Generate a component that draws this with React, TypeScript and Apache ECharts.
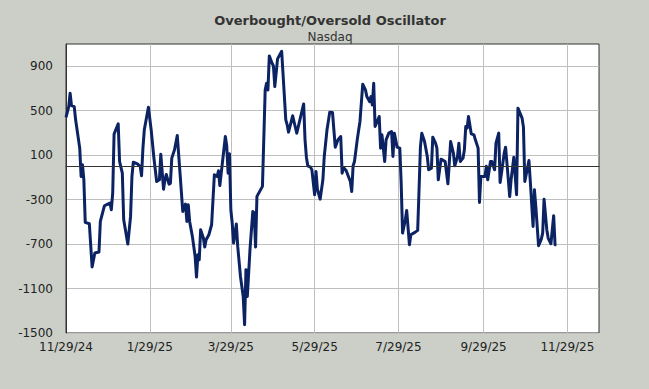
import React, { useEffect, useRef } from "react";
import * as echarts from "echarts";

const titleText = "Overbought/Oversold Oscillator";
const subtitleText = "Nasdaq";

const dates: string[] = [
  "2024-11-29","2024-12-01","2024-12-02","2024-12-03","2024-12-05","2024-12-06","2024-12-09","2024-12-10","2024-12-11","2024-12-12",
  "2024-12-13","2024-12-16","2024-12-18","2024-12-20","2024-12-23","2024-12-24","2024-12-27","2024-12-29","2024-12-31","2025-01-01",
  "2025-01-02","2025-01-03","2025-01-06","2025-01-07","2025-01-09","2025-01-10","2025-01-13","2025-01-15","2025-01-16","2025-01-17",
  "2025-01-20","2025-01-22","2025-01-23","2025-01-24","2025-01-25","2025-01-28","2025-01-30","2025-02-01","2025-02-03","2025-02-05",
  "2025-02-06","2025-02-08","2025-02-09","2025-02-10","2025-02-12","2025-02-13","2025-02-14","2025-02-16","2025-02-18","2025-02-20",
  "2025-02-22","2025-02-24","2025-02-25","2025-02-26","2025-02-27","2025-03-01","2025-03-03","2025-03-04","2025-03-05","2025-03-06",
  "2025-03-07","2025-03-09","2025-03-10","2025-03-11","2025-03-13","2025-03-15","2025-03-17","2025-03-19","2025-03-20","2025-03-21",
  "2025-03-22","2025-03-25","2025-03-26","2025-03-27","2025-03-28","2025-03-29","2025-03-30","2025-03-31","2025-04-02","2025-04-03",
  "2025-04-05","2025-04-07","2025-04-08","2025-04-09","2025-04-10","2025-04-12","2025-04-14","2025-04-15","2025-04-16","2025-04-17",
  "2025-04-21","2025-04-23","2025-04-24","2025-04-25","2025-04-26","2025-04-28","2025-04-29","2025-04-30","2025-05-02","2025-05-05",
  "2025-05-08","2025-05-09","2025-05-10","2025-05-13","2025-05-15","2025-05-16","2025-05-19","2025-05-21","2025-05-22","2025-05-23",
  "2025-05-24","2025-05-26","2025-05-27","2025-05-29","2025-05-30","2025-05-31","2025-06-02","2025-06-04","2025-06-05","2025-06-07",
  "2025-06-09","2025-06-11","2025-06-13","2025-06-15","2025-06-17","2025-06-18","2025-06-19","2025-06-21","2025-06-24","2025-06-25",
  "2025-06-26","2025-06-27","2025-06-29","2025-06-30","2025-07-01","2025-07-03","2025-07-05","2025-07-06","2025-07-08","2025-07-09",
  "2025-07-10","2025-07-11","2025-07-12","2025-07-14","2025-07-15","2025-07-16","2025-07-17","2025-07-19","2025-07-20","2025-07-22",
  "2025-07-24","2025-07-25","2025-07-26","2025-07-27","2025-07-28","2025-07-30","2025-07-31","2025-08-01","2025-08-03","2025-08-04",
  "2025-08-06","2025-08-07","2025-08-10","2025-08-12","2025-08-13","2025-08-14","2025-08-15","2025-08-17","2025-08-19","2025-08-20",
  "2025-08-22","2025-08-23","2025-08-25","2025-08-26","2025-08-27","2025-08-29","2025-09-01","2025-09-03","2025-09-04","2025-09-05",
  "2025-09-07","2025-09-08","2025-09-10","2025-09-11","2025-09-12","2025-09-14","2025-09-15","2025-09-16","2025-09-17","2025-09-18",
  "2025-09-20","2025-09-22","2025-09-23","2025-09-25","2025-09-26","2025-09-27","2025-09-29","2025-09-30","2025-10-01","2025-10-02",
  "2025-10-04","2025-10-05","2025-10-07","2025-10-08","2025-10-10","2025-10-11","2025-10-12","2025-10-14","2025-10-15","2025-10-17",
  "2025-10-18","2025-10-19","2025-10-21","2025-10-23","2025-10-24","2025-10-27","2025-10-28","2025-10-29","2025-11-01","2025-11-02",
  "2025-11-04","2025-11-05","2025-11-06","2025-11-08","2025-11-10","2025-11-11","2025-11-12","2025-11-14","2025-11-15","2025-11-17",
  "2025-11-19","2025-11-20","2025-11-21"
];

const oscillator: number[] = [
  440, 537, 657, 546, 537, 418, 163, -92, 13, -122,
  -505, -517, -906, -780, -771, -496, -355, -343, -331, -391,
  -241, 289, 382, 43, -62, -481, -700, -451, -92, 37,
  22, -2, -85, 163, 328, 531, 328, 73, -137, -122,
  109, -206, -122, -74, -161, -152, 73, 148, 277, -62,
  -406, -340, -496, -346, -496, -631, -811, -997, -796, -841,
  -571, -646, -727, -661, -616, -526, -77, -92, -41, -173,
  -62, 268, 184, -62, 112, -391, -511, -691, -520, -721,
  -991, -1171, -1425, -930, -1171, -736, -406, -420, -727, -271,
  -181, 687, 747, 687, 993, 927, 903, 717, 966, 1035,
  418, 373, 307, 454, 349, 298, 457, 561, 238, 82,
  4, -8, -32, -256, -47, -206, -296, -122, 88, 328,
  487, 484, 172, 238, 268, -62, -11, -41, -137, -227,
  4, 43, 238, 322, 403, 738, 687, 627, 582, 627,
  552, 747, 358, 418, 448, 163, 283, 43, 238, 298,
  313, 88, 298, 238, 172, 163, -152, -601, -481, -397,
  -706, -616, -595, -577, -211, 172, 298, 223, 88, -32,
  -17, 262, 208, 163, -122, 64, 43, -158, 28, 223,
  118, 4, 88, 208, 43, 73, 148, 358, 343, 448,
  292, 283, 238, 163, -326, -92, -92, -92, 1, -122,
  43, 43, -32, 208, 298, -146, -62, 118, 172, -122,
  -272, -122, 82, -256, 523, 433, 352, -137, 52, -137,
  -541, -212, -361, -715, -655, -601, -296, -571, -646, -697,
  -445, -706, -706
];

const xTickDates: string[] = [
  "2024-11-29", "2025-01-29", "2025-03-29", "2025-05-29", "2025-07-29", "2025-09-29", "2025-11-29"
];
const xMinDate = "2024-11-29";
const xMaxDate = "2025-12-22";

const yTicks: number[] = [-1500, -1100, -700, -300, 100, 500, 900];
const yMin = -1500;
const yMax = 1100;

const DAY = 86400000;
function utc(d: string): number {
  const [y, m, day] = d.split("-").map(Number);
  return Date.UTC(y, m - 1, day);
}
const origin = utc(xMinDate);
function dayIndex(d: string): number {
  return Math.round((utc(d) - origin) / DAY);
}
function fmtDay(v: number): string {
  const d = new Date(origin + Math.round(v) * DAY);
  return `${d.getUTCMonth() + 1}/${d.getUTCDate()}/${String(d.getUTCFullYear()).slice(2)}`;
}

export default function App() {
  const ref = useRef<HTMLDivElement>(null);
  useEffect(() => {
    if (!ref.current) return;
    const chart = echarts.init(ref.current, undefined, { renderer: "svg" });
    const font = "DejaVu Sans, Verdana, sans-serif";
    const xTicks = xTickDates.map(dayIndex);
    chart.setOption({
      animation: false,
      backgroundColor: "#cbcfc8",
      textStyle: { fontFamily: font },
      graphic: [
        {
          type: "text",
          x: 330,
          y: 20,
          style: {
            text: titleText,
            fill: "#333333",
            font: `bold 13px ${font}`,
            textAlign: "center",
            textVerticalAlign: "middle",
          },
        },
        {
          type: "text",
          x: 330,
          y: 37,
          style: {
            text: subtitleText,
            fill: "#333333",
            font: `12px ${font}`,
            textAlign: "center",
            textVerticalAlign: "middle",
          },
        },
      ],
      grid: {
        left: 66,
        right: 50,
        top: 44,
        bottom: 56,
        show: true,
        backgroundColor: "#ffffff",
        borderColor: "#333333",
        borderWidth: 1,
      },
      xAxis: {
        type: "value",
        min: dayIndex(xMinDate),
        max: dayIndex(xMaxDate),
        axisLine: { show: true, lineStyle: { color: "#333333", width: 1 } },
        axisTick: { show: false, customValues: xTicks },
        axisLabel: {
          customValues: xTicks,
          formatter: (v: number) => fmtDay(v),
          color: "#222222",
          fontSize: 12,
          fontFamily: font,
          margin: 8,
        },
        splitLine: { show: true, lineStyle: { color: "#bfbfbf", width: 1 } },
      },
      yAxis: {
        type: "value",
        min: yMin,
        max: yMax,
        axisLine: { show: true, lineStyle: { color: "#333333", width: 1 } },
        axisTick: { show: false, customValues: yTicks },
        axisLabel: {
          customValues: yTicks,
          formatter: (v: number) => String(v),
          color: "#222222",
          fontSize: 12,
          fontFamily: font,
          margin: 13,
        },
        splitLine: { show: true, lineStyle: { color: "#bfbfbf", width: 1 } },
      },
      series: [
        {
          type: "line",
          data: dates.map((d, i) => [dayIndex(d), oscillator[i]]),
          showSymbol: false,
          symbol: "none",
          lineStyle: { color: "#0b2363", width: 3, join: "round" },
          markLine: {
            silent: true,
            symbol: "none",
            label: { show: false },
            lineStyle: { color: "#333333", width: 1, type: "solid" },
            data: [{ yAxis: 0 }],
          },
          z: 3,
        },
      ],
    });
    return () => chart.dispose();
  }, []);
  return (
    <div
      ref={ref}
      style={{ position: "fixed", left: 0, top: 0, width: 649, height: 389 }}
    />
  );
}
